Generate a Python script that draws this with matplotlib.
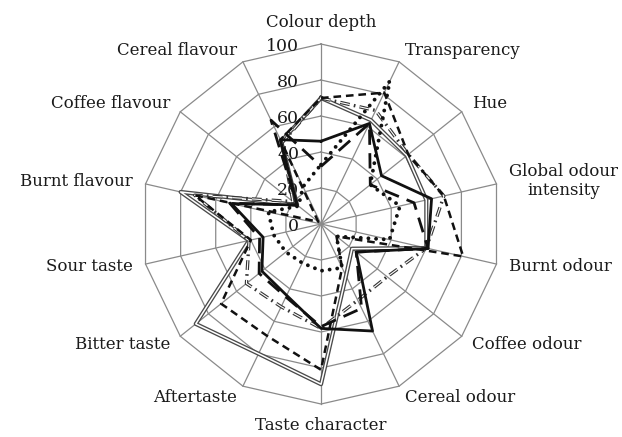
import numpy as np
import matplotlib.pyplot as plt

# sensory attributes, clockwise from the top
attributes = ['Colour depth', 'Transparency', 'Hue', 'Global odour\nintensity',
              'Burnt odour', 'Coffee odour', 'Cereal odour', 'Taste character',
              'Aftertaste', 'Bitter taste', 'Sour taste', 'Burnt flavour',
              'Coffee flavour', 'Cereal flavour']
ticks = [0, 20, 40, 60, 80, 100]

# scores of each sample
sample_solid = [46, 62, 43, 63, 61, 25, 66, 58, 44, 42, 33, 51, 17, 52]
sample_dashed = [70, 81, 62, 70, 81, 11, 27, 81, 69, 71, 40, 72, 2, 52]
sample_dotted = [33, 88, 35, 45, 39, 11, 27, 26, 24, 25, 27, 30, 16, 23]
sample_double = [70, 64, 61, 60, 60, 22, 32, 89, 80, 89, 41, 80, 17, 51]
sample_longdash = [32, 62, 35, 53, 61, 25, 52, 57, 45, 44, 35, 52, 17, 64]
sample_dashdot = [70, 70, 62, 70, 60, 47, 47, 58, 51, 53, 41, 72, 20, 50]

plt.rcParams['font.family'] = 'DejaVu Serif'
plt.rcParams['lines.scale_dashes'] = False

n = len(attributes)
angles = np.linspace(0, 2 * np.pi, n, endpoint=False)
closed = np.append(angles, angles[0])


def close(vals):
    return vals + vals[:1]


fig = plt.figure(figsize=(6.22, 4.37), dpi=100)
ax = fig.add_axes([0.2267, 0.0755, 0.5788, 0.8238], polar=True)
ax.set_theta_zero_location('N')
ax.set_theta_direction(-1)
ax.set_ylim(0, 100)
ax.axis('off')

# polygon grid and spokes
grid_col = '#8a8a8a'
for r in ticks[1:]:
    ax.plot(closed, [r] * (n + 1), color=grid_col, lw=0.9, zorder=1, clip_on=False)
for a in angles:
    ax.plot([a, a], [0, 100], color=grid_col, lw=0.9, zorder=1, clip_on=False)

# radial scale along the top spoke
for t in ticks:
    ax.annotate(str(t), xy=(0, t), xytext=(-22, -2), textcoords='offset pixels',
                ha='right', va='center', fontsize=12.5, color='#1a1a1a')

# attribute labels
for a, name in zip(angles, attributes):
    s = np.sin(a)
    if abs(s) < 1e-6:
        ha, r = 'center', 112
    elif s > 0:
        ha, r = 'left', 107
    else:
        ha, r = 'right', 107
    ax.text(a, r, name, ha=ha, va='center', fontsize=12, color='#1a1a1a',
            multialignment='center')

kw = dict(clip_on=False, zorder=3)
# double line sample
ax.plot(closed, close(sample_double), color='#4a4a4a', lw=3.0, **kw)
ax.plot(closed, close(sample_double), color='white', lw=1.1, **kw)
# hollow dash-dot sample
ax.plot(closed, close(sample_dashdot), color='#333333', lw=2.4,
        dashes=(7, 3, 1.2, 3), **kw)
ax.plot(closed, close(sample_dashdot), color='white', lw=0.8,
        dashes=(7, 7.2), **kw)
# long dash
ax.plot(closed, close(sample_longdash), color='#111111', lw=2.0,
        dashes=(11, 6), **kw)
# dotted
ax.plot(closed, close(sample_dotted), color='#111111', lw=2.8,
        dashes=(0.01, 5.5), dash_capstyle='round', **kw)
# dashed
ax.plot(closed, close(sample_dashed), color='#111111', lw=1.8,
        dashes=(5.5, 3.5), **kw)
# solid
ax.plot(closed, close(sample_solid), color='#111111', lw=2.0, **kw)

fig.savefig('out.png', dpi=100)
